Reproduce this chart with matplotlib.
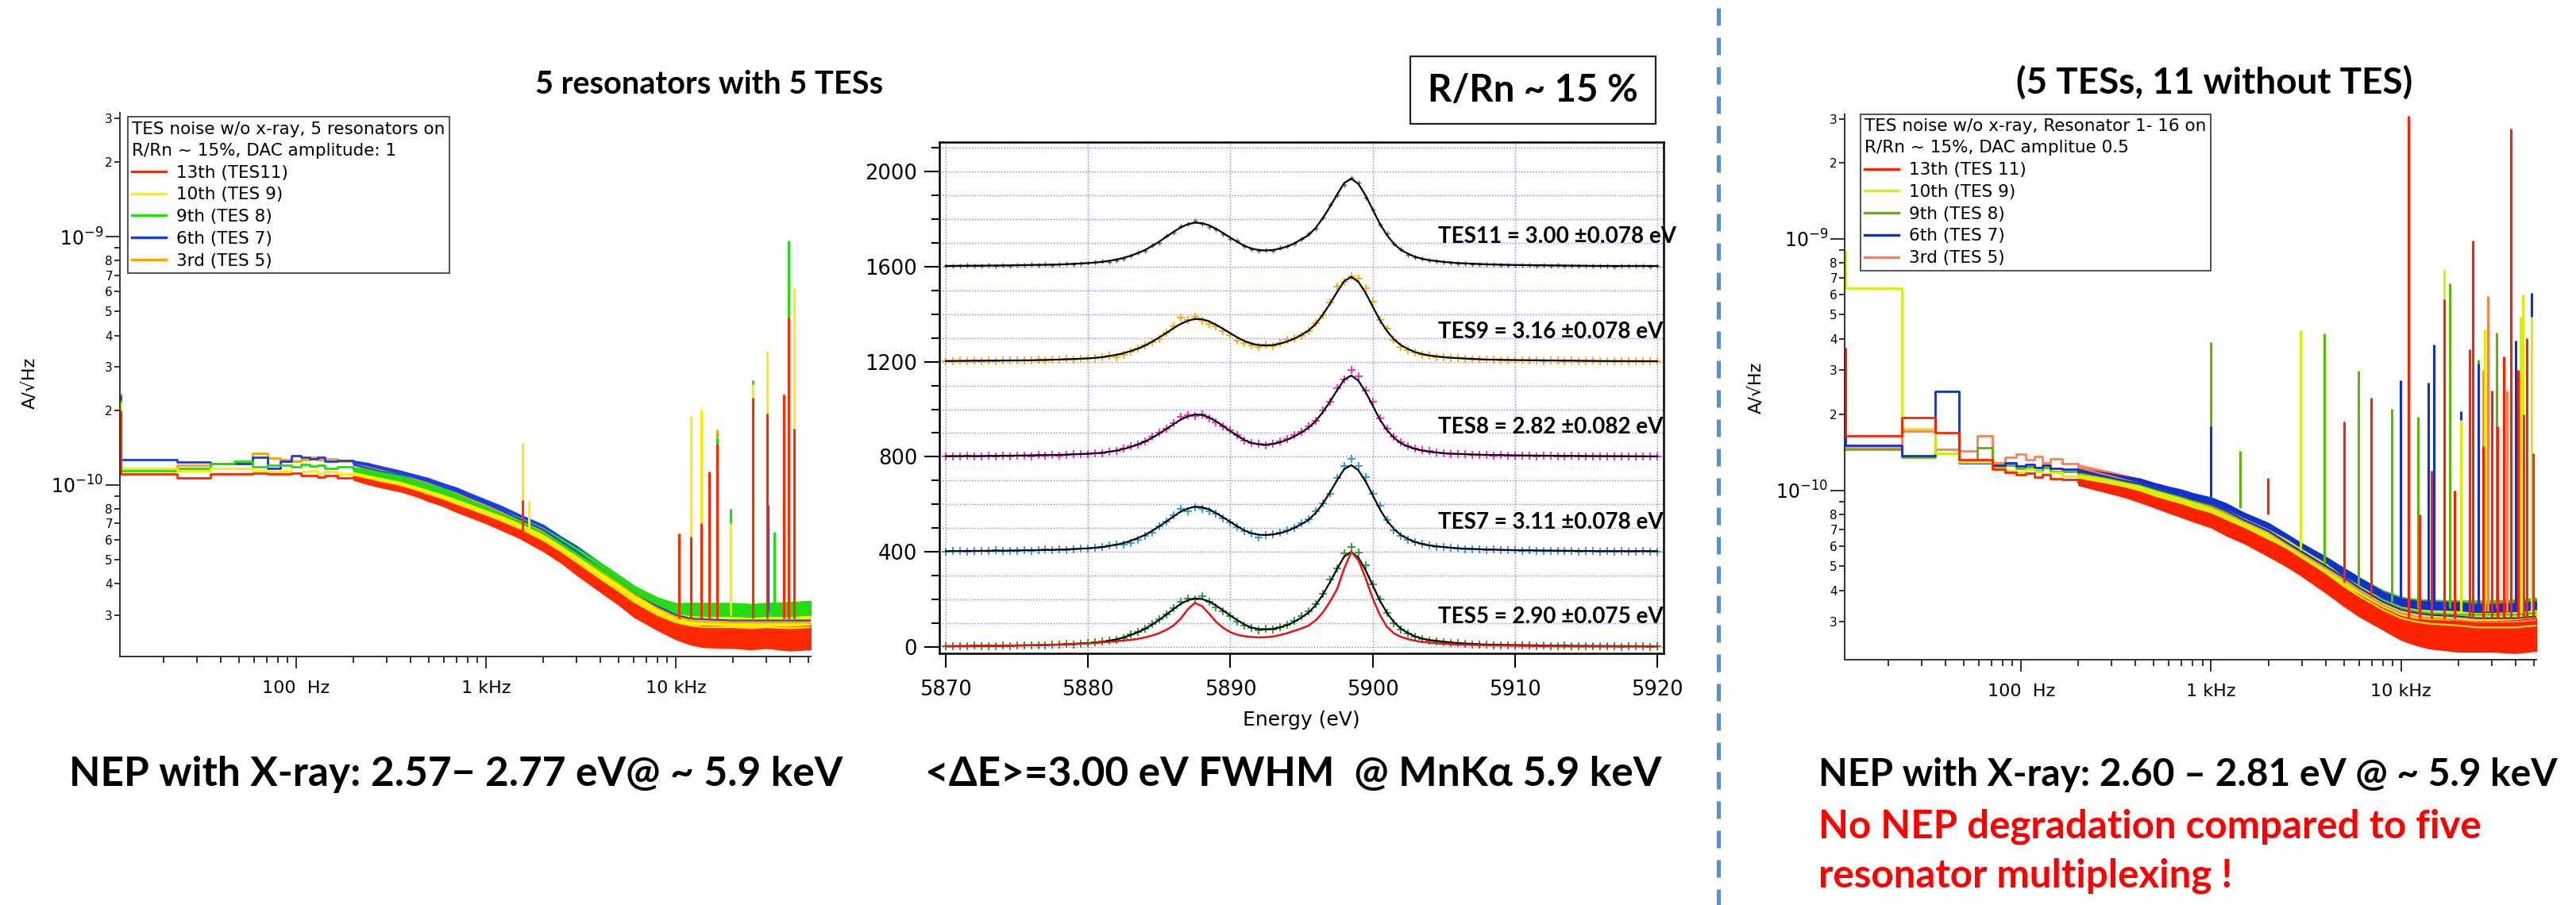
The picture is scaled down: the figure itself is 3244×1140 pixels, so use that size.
import matplotlib
matplotlib.use("Agg")
import math
import matplotlib.pyplot as plt
from matplotlib.lines import Line2D
from matplotlib.patches import Rectangle
from matplotlib.ticker import FixedLocator, FixedFormatter, FuncFormatter, NullFormatter

plt.rcParams['font.family'] = ['DejaVu Sans']
plt.rcParams['mathtext.fontset'] = 'dejavusans'

W, H = 3244, 1140
BOLD = ['Lato', 'DejaVu Sans']

# ---------------- noise spectra (values in 1e-11 A/rtHz) ----------------
UNIT = 1e-11
freq = [11.8, 23.6, 35.4, 47.2, 59.0, 70.8, 82.6, 94.4, 106, 118, 130, 142, 165,
        200, 236, 283, 354, 425, 500, 600, 700, 800, 1000, 1200, 1500, 2000, 2500,
        3000, 4000, 5000, 6000, 8000, 10000, 12000, 14000, 20000, 25000, 30000,
        40000, 51400]
N_STEP = 14  # the first bins are drawn as steps, the rest as a noisy band

# relative half-width of the noisy band
jit_left = [0] * 13 + [0.02, 0.025, 0.025, 0.03, 0.03, 0.035, 0.035, 0.04, 0.04, 0.04,
                       0.045, 0.045, 0.05, 0.05, 0.055, 0.06, 0.06, 0.065, 0.07, 0.08,
                       0.09, 0.10, 0.10, 0.10, 0.10, 0.11, 0.11]
jit_right = [0] * 13 + [0.03, 0.035, 0.04, 0.045, 0.05, 0.05, 0.055, 0.06, 0.06, 0.065,
                        0.07, 0.07, 0.075, 0.08, 0.08, 0.09, 0.09, 0.10, 0.10, 0.11,
                        0.12, 0.13, 0.14, 0.14, 0.14, 0.15, 0.15]

left_red = [11.07, 10.7, 11.07, 11.07, 11.2, 11.07, 11.07, 11.2, 10.9, 10.9, 10.8, 10.9, 10.7,
            10.7, 10.35, 10.0, 9.7, 9.3, 8.9, 8.5, 8.1, 7.8, 7.3, 6.9, 6.4, 5.7, 5.1, 4.6,
            3.95, 3.5, 3.15, 2.8, 2.6, 2.5, 2.47, 2.45, 2.42, 2.45, 2.42, 2.45]
left_yellow = [11.64, 11.45, 11.64, 11.64, 11.45, 11.3, 11.45, 11.2, 11.3, 11.45, 11.2, 11.3, 11.1,
               11.0, 10.7, 10.4, 10.0, 9.6, 9.2, 8.8, 8.4, 8.1, 7.6, 7.2, 6.7, 6.0, 5.4, 4.9,
               4.2, 3.75, 3.4, 3.0, 2.8, 2.72, 2.68, 2.68, 2.65, 2.68, 2.65, 2.68]
left_green = [11.45, 11.64, 12.24, 12.45, 11.84, 12.0, 12.0, 11.84, 12.1, 11.9, 12.0, 11.7, 11.8,
              11.6, 11.3, 11.0, 10.6, 10.2, 9.8, 9.4, 9.0, 8.6, 8.0, 7.6, 7.1, 6.4, 5.8, 5.3,
              4.6, 4.1, 3.7, 3.3, 3.1, 3.08, 3.05, 3.05, 3.02, 3.05, 3.05, 3.08]
left_blue = [12.67, 12.35, 12.24, 12.24, 12.9, 11.64, 12.45, 13.1, 12.9, 12.7, 12.9, 12.5, 12.6,
             12.3, 12.0, 11.6, 11.1, 10.7, 10.3, 9.8, 9.4, 9.0, 8.4, 7.9, 7.3, 6.6, 5.9, 5.4,
             4.6, 4.1, 3.7, 3.25, 3.0, 2.9, 2.88, 2.85, 2.85, 2.85, 2.85, 2.85]
left_orange = [11.7, 12.04, 12.24, 12.24, 13.45, 12.88, 12.67, 12.45, 12.67, 12.9, 12.67, 12.7, 12.5,
               12.3, 11.9, 11.5, 11.1, 10.6, 10.2, 9.8, 9.3, 8.9, 8.3, 7.8, 7.25, 6.5, 5.85, 5.3,
               4.55, 4.05, 3.65, 3.2, 2.95, 2.85, 2.82, 2.8, 2.8, 2.8, 2.8, 2.8]

# spikes: (frequency, base, top)
left_red_spikes = [(11.9, 11.1, 20.0), (1556, 6.5, 8.7), (10400, 2.9, 6.4), (12000, 2.9, 6.2),
                   (13600, 2.9, 7.0), (15000, 2.9, 11.3), (16500, 2.9, 14.7), (25400, 2.9, 22.5),
                   (30200, 2.9, 19.4), (36900, 2.9, 23.2), (39400, 2.9, 47.2), (42000, 2.9, 16.9)]
left_yellow_spikes = [(11.9, 11.7, 21.5), (1556, 6.8, 14.8), (1680, 6.7, 8.6), (12000, 3.0, 19.0),
                      (13600, 3.0, 20.1), (19400, 3.0, 7.0), (25400, 3.0, 25.5), (30200, 3.0, 34.6),
                      (42000, 3.0, 61.9)]
left_green_spikes = [(11.9, 11.5, 22.0), (16500, 3.3, 15.5), (19400, 3.3, 8.0), (25400, 3.3, 26.4),
                     (33000, 3.3, 6.5), (39400, 3.3, 96.7)]
left_blue_spikes = [(11.9, 12.7, 23.0), (30500, 3.1, 8.3)]
left_orange_spikes = [(11.9, 11.7, 23.5), (16500, 3.1, 16.7)]

right_red = [16.5, 19.5, 16.9, 13.2, 13.2, 12.1, 11.8, 11.5, 11.7, 11.3, 11.5, 11.1, 11.0,
             10.8, 10.5, 10.2, 9.8, 9.4, 9.0, 8.6, 8.3, 8.0, 7.6, 7.1, 6.6, 5.9, 5.4, 4.95,
             4.3, 3.8, 3.5, 3.1, 2.85, 2.75, 2.7, 2.65, 2.65, 2.65, 2.65, 2.7]
right_yellow = [63.6, 17.6, 14.06, 12.93, 12.93, 12.2, 12.0, 11.8, 12.1, 11.9, 11.6, 11.8, 11.4,
                11.3, 11.0, 10.8, 10.4, 10.0, 9.7, 9.3, 9.0, 8.7, 8.3, 7.8, 7.2, 6.5, 5.9, 5.4,
                4.7, 4.15, 3.8, 3.35, 3.1, 3.0, 2.95, 2.9, 2.85, 2.85, 2.85, 2.9]
right_green = [14.6, 13.5, 14.06, 12.93, 14.8, 12.4, 12.6, 12.2, 12.4, 12.0, 12.3, 11.9, 11.9,
               11.7, 11.5, 11.2, 10.8, 10.5, 10.1, 9.7, 9.4, 9.1, 8.7, 8.2, 7.6, 6.9, 6.2, 5.7,
               5.0, 4.5, 4.1, 3.65, 3.4, 3.3, 3.25, 3.2, 3.2, 3.2, 3.2, 3.25]
right_blue = [15.1, 13.7, 24.8, 12.9, 12.9, 12.6, 12.9, 12.5, 12.7, 12.3, 12.6, 12.2, 12.1,
              11.9, 11.6, 11.3, 10.9, 10.6, 10.2, 9.8, 9.5, 9.2, 8.8, 8.3, 7.6, 6.9, 6.2, 5.7,
              5.0, 4.5, 4.1, 3.6, 3.35, 3.25, 3.2, 3.15, 3.1, 3.1, 3.1, 3.15]
right_orange = [14.8, 17.2, 14.6, 14.3, 16.5, 12.9, 13.5, 13.9, 13.2, 13.6, 12.9, 13.3, 12.8,
                12.3, 11.9, 11.5, 11.0, 10.6, 10.2, 9.8, 9.4, 9.1, 8.6, 8.1, 7.5, 6.8, 6.1, 5.6,
                4.9, 4.4, 4.0, 3.5, 3.25, 3.15, 3.1, 3.05, 3.0, 3.0, 3.0, 3.05]

right_red_spikes = [(11.9, 16.5, 37.0), (1990, 8.0, 11.2), (5000, 4.3, 18.8), (6980, 3.8, 23.3),
                    (10900, 3.1, 308), (12500, 3.1, 8.0), (14500, 3.1, 12.0), (16900, 3.1, 57.4),
                    (19000, 3.1, 10.0), (22800, 3.1, 36.4), (23900, 3.1, 98.1), (27000, 3.1, 15.0),
                    (30000, 3.1, 25.0), (32000, 3.1, 18.0), (34700, 3.1, 34.0), (37600, 3.1, 274),
                    (41000, 3.1, 30.0), (44000, 3.1, 20.0), (46000, 3.1, 40.3), (49500, 3.1, 14.0)]
right_yellow_spikes = [(11.9, 63.6, 89.5), (2960, 5.8, 43.4), (16900, 3.3, 75.0), (20600, 3.3, 19.0),
                       (27500, 3.3, 43.7), (42400, 3.3, 49.0), (43800, 3.3, 59.9), (48600, 3.3, 49.1)]
right_green_spikes = [(993, 9.4, 38.9), (1420, 8.5, 14.3), (3950, 5.0, 42.0), (5980, 4.2, 29.9),
                      (8900, 3.6, 21.1), (12200, 3.4, 19.6), (16900, 3.4, 72.0), (18000, 3.4, 66.4),
                      (25500, 3.4, 33.0), (31800, 3.4, 42.3)]
right_blue_spikes = [(11.9, 15.1, 37.0), (993, 9.4, 18.0), (9950, 3.5, 27.4), (13900, 3.4, 26.7),
                     (14900, 3.4, 38.0), (20600, 3.4, 20.6), (25500, 3.4, 32.0), (40200, 3.4, 39.5),
                     (42400, 3.4, 40.3), (48600, 3.4, 61.0)]
right_orange_spikes = [(26900, 3.3, 30.0), (28600, 3.3, 59.0), (36000, 3.3, 25.0)]

left_labels = ['13th (TES11)', '10th (TES 9)', '9th (TES 8)', '6th (TES 7)', '3rd (TES 5)']
right_labels = ['13th (TES 11)', '10th (TES 9)', '9th (TES 8)', '6th (TES 7)', '3rd (TES 5)']
left_title = 'TES noise w/o x-ray, 5 resonators on\nR/Rn ~ 15%, DAC amplitude: 1'
right_title = 'TES noise w/o x-ray, Resonator 1- 16 on\nR/Rn ~ 15%, DAC amplitue 0.5'
left_colors = ['#ff2a00', '#ffee00', '#22dd11', '#1a3cf0', '#ffa200']
right_colors = ['#ff2200', '#d8f000', '#5cb800', '#1030d0', '#ff8050']

# ---------------- MnKa spectra ----------------
E_fit = [5870, 5872, 5874, 5876, 5878, 5880, 5881, 5882, 5882.5, 5883, 5883.5, 5884, 5884.5,
         5885, 5885.5, 5886, 5886.5, 5887, 5887.5, 5888, 5888.5, 5889, 5889.5, 5890, 5890.5,
         5891, 5891.5, 5892, 5892.5, 5893, 5893.5, 5894, 5894.5, 5895, 5895.5, 5896, 5896.5,
         5897, 5897.5, 5898, 5898.5, 5899, 5899.5, 5900, 5900.5, 5901, 5901.5, 5902, 5902.5,
         5903, 5903.5, 5904, 5905, 5906, 5908, 5910, 5913, 5916, 5920]
fit_tes11 = [3, 4, 5, 7, 9, 15, 20, 30, 37, 46, 57, 70, 87, 105, 126, 146, 165, 178, 185, 183,
             174, 159, 141, 122, 104, 87, 76, 70, 68, 70, 76, 85, 98, 115, 133, 163, 204, 252,
             303, 352, 370, 348, 300, 241, 181, 133, 96, 70, 54, 41, 33, 27, 20, 15, 10, 7, 5, 3, 3]
fit_tes9 = [3, 4, 5, 6, 9, 14, 19, 29, 36, 45, 55, 68, 84, 102, 121, 141, 159, 172, 180, 179,
            170, 155, 138, 120, 102, 87, 76, 70, 68, 70, 76, 85, 97, 113, 131, 159, 198, 244,
            293, 339, 357, 336, 290, 233, 176, 130, 94, 69, 53, 40, 32, 26, 19, 15, 9, 7, 5, 3, 2]
fit_tes8 = [3, 3, 4, 6, 8, 13, 17, 26, 33, 41, 52, 64, 80, 98, 117, 137, 156, 170, 178, 176,
            166, 149, 129, 108, 88, 70, 58, 52, 51, 54, 61, 72, 86, 103, 123, 150, 188, 232,
            280, 325, 342, 320, 273, 216, 158, 113, 80, 57, 43, 33, 26, 21, 15, 12, 8, 6, 4, 3, 2]
fit_tes7 = [3, 4, 5, 7, 9, 15, 20, 30, 37, 47, 58, 71, 88, 107, 128, 149, 169, 182, 190, 188,
            179, 163, 145, 126, 107, 90, 78, 72, 71, 73, 79, 88, 101, 117, 135, 164, 203, 250,
            301, 348, 365, 343, 297, 239, 180, 132, 96, 70, 54, 41, 33, 27, 20, 15, 10, 7, 5, 3, 3]
fit_tes5 = [3, 4, 5, 7, 10, 16, 21, 32, 40, 50, 62, 76, 94, 114, 136, 159, 181, 196, 204, 202,
            191, 174, 153, 132, 112, 94, 81, 75, 73, 76, 82, 92, 106, 124, 145, 176, 220, 272,
            328, 380, 400, 376, 324, 260, 196, 144, 104, 76, 58, 44, 35, 29, 22, 16, 10, 8, 5, 4, 3]
natural_line = [3, 4, 5, 7, 10, 15, 19, 24, 27, 30, 34, 40, 48, 58, 72, 90, 118, 158, 185, 172,
                140, 105, 80, 62, 51, 45, 42, 40, 41, 44, 50, 58, 68, 78, 90, 112, 145, 190,
                243, 330, 400, 365, 290, 205, 135, 85, 57, 42, 33, 26, 21, 18, 13, 10, 7, 5, 3, 2, 2]

E_bin = [5870, 5870.5, 5871, 5871.5, 5872, 5872.5, 5873, 5873.5, 5874, 5874.5,
         5875, 5875.5, 5876, 5876.5, 5877, 5877.5, 5878, 5878.5, 5879, 5879.5,
         5880, 5880.5, 5881, 5881.5, 5882, 5882.5, 5883, 5883.5, 5884, 5884.5,
         5885, 5885.5, 5886, 5886.5, 5887, 5887.5, 5888, 5888.5, 5889, 5889.5,
         5890, 5890.5, 5891, 5891.5, 5892, 5892.5, 5893, 5893.5, 5894, 5894.5,
         5895, 5895.5, 5896, 5896.5, 5897, 5897.5, 5898, 5898.5, 5899, 5899.5,
         5900, 5900.5, 5901, 5901.5, 5902, 5902.5, 5903, 5903.5, 5904, 5904.5,
         5905, 5905.5, 5906, 5906.5, 5907, 5907.5, 5908, 5908.5, 5909, 5909.5,
         5910, 5910.5, 5911, 5911.5, 5912, 5912.5, 5913, 5913.5, 5914, 5914.5,
         5915, 5915.5, 5916, 5916.5, 5917, 5917.5, 5918, 5918.5, 5919, 5919.5, 5920]
cnt_tes11 = [2, 4, 3, 5, 2, 4, 6, 3, 5, 4, 6, 5, 8, 6, 9, 7, 10, 12, 9, 14,
             15, 18, 22, 19, 28, 34, 48, 60, 67, 90, 100, 130, 142, 170, 180, 192, 180, 168, 155, 138,
             118, 110, 85, 72, 66, 70, 68, 80, 88, 95, 118, 140, 160, 208, 260, 300, 345, 375, 352, 290,
             240, 178, 140, 98, 72, 50, 40, 32, 26, 24, 18, 16, 14, 12, 11, 9, 10, 8, 6, 7,
             7, 5, 6, 4, 5, 3, 5, 4, 3, 2, 4, 2, 3, 3, 1, 3, 2, 2, 3, 1, 2]
cnt_tes9 = [3, 2, 4, 3, 5, 2, 4, 3, 6, 4, 5, 7, 4, 8, 6, 9, 8, 11, 10, 13,
            14, 17, 20, 24, 18, 30, 42, 55, 70, 82, 96, 124, 150, 185, 175, 190, 172, 160, 148, 130,
            112, 90, 80, 68, 62, 72, 66, 78, 92, 98, 108, 128, 162, 196, 250, 315, 335, 360, 350, 310,
            252, 175, 140, 92, 62, 48, 38, 30, 24, 20, 18, 14, 15, 11, 10, 9, 8, 9, 7, 6,
            6, 7, 4, 5, 3, 5, 4, 3, 4, 2, 3, 4, 2, 3, 2, 3, 1, 2, 3, 2, 2]
cnt_tes8 = [2, 3, 1, 4, 2, 3, 5, 2, 4, 3, 4, 6, 3, 7, 5, 8, 6, 9, 10, 12,
            11, 16, 14, 22, 26, 34, 44, 52, 66, 85, 100, 118, 140, 168, 176, 172, 180, 162, 146, 128,
            110, 90, 68, 58, 55, 48, 56, 64, 74, 90, 104, 128, 150, 196, 232, 290, 325, 365, 338, 280,
            232, 160, 118, 86, 60, 45, 36, 28, 24, 18, 16, 12, 13, 10, 9, 7, 8, 6, 7, 5,
            6, 4, 5, 3, 4, 5, 3, 2, 4, 3, 2, 3, 1, 3, 2, 1, 3, 2, 1, 2, 2]
cnt_tes7 = [2, 4, 3, 2, 5, 3, 4, 6, 3, 5, 4, 7, 5, 6, 9, 7, 10, 8, 12, 14,
            13, 18, 20, 26, 30, 32, 38, 52, 68, 82, 108, 128, 155, 182, 170, 188, 180, 172, 160, 140,
            124, 105, 88, 78, 62, 72, 74, 80, 90, 102, 120, 138, 170, 205, 246, 312, 360, 390, 362, 315,
            245, 195, 135, 92, 68, 52, 40, 34, 26, 22, 19, 16, 14, 12, 10, 11, 8, 9, 7, 6,
            7, 5, 6, 4, 5, 3, 4, 5, 3, 2, 3, 4, 2, 3, 2, 3, 2, 1, 3, 2, 2]
cnt_tes5 = [2, 3, 4, 2, 5, 3, 4, 3, 6, 4, 5, 7, 6, 8, 7, 10, 9, 12, 11, 14,
            16, 19, 24, 28, 30, 38, 52, 62, 78, 98, 115, 138, 165, 190, 205, 200, 212, 190, 168, 150,
            130, 108, 90, 80, 70, 76, 72, 82, 94, 110, 130, 150, 180, 225, 285, 330, 395, 420, 398, 345,
            262, 200, 145, 100, 72, 56, 44, 34, 28, 24, 20, 18, 15, 13, 11, 10, 9, 8, 7, 8,
            6, 5, 7, 4, 5, 4, 3, 5, 3, 2, 4, 2, 3, 2, 3, 1, 2, 3, 2, 1, 2]

tes_offsets = [1600, 1200, 800, 400, 0]
tes_colors = ['#5a5a5a', '#ffaa00', '#ff22cc', '#2a96dc', '#22a022']
tes_text = ['TES11 = 3.00 \u00b10.078 eV', 'TES9 = 3.16 \u00b10.078 eV', 'TES8 = 2.82 \u00b10.082 eV',
            'TES7 = 3.11 \u00b10.078 eV', 'TES5 = 2.90 \u00b10.075 eV']


def box(x0, y0, x1, y1):
    return [x0 / W, 1 - y1 / H, (x1 - x0) / W, (y1 - y0) / H]


def fx(x):
    return x / W


def fy(y):
    return 1 - y / H


def minor_label(v, pos):
    e = math.floor(math.log10(v) + 1e-9)
    m = int(round(v / 10 ** e))
    return '' if m in (1, 9) else str(m)


def style_noise(ax, ylim):
    ax.set_xscale('log')
    ax.set_yscale('log')
    ax.set_xlim(11.8, 51400)
    ax.set_ylim(ylim)
    for s in ('top', 'right'):
        ax.spines[s].set_visible(False)
    for s in ('left', 'bottom'):
        ax.spines[s].set_color('#333333')
        ax.spines[s].set_linewidth(1.4)
    ax.xaxis.set_major_locator(FixedLocator([100, 1000, 10000]))
    ax.xaxis.set_major_formatter(FixedFormatter(['100  Hz', '1 kHz', '10 kHz']))
    xminor = [m * d for d in (10, 100, 1000, 10000) for m in range(2, 10) if m * d < 51400]
    ax.xaxis.set_minor_locator(FixedLocator(xminor))
    ax.xaxis.set_minor_formatter(NullFormatter())
    ax.yaxis.set_major_locator(FixedLocator([1e-10, 1e-9]))
    ax.yaxis.set_major_formatter(FixedFormatter([r'$10^{-10}$', r'$10^{-9}$']))
    yminor = [m * d for d in (1e-11, 1e-10, 1e-9) for m in range(2, 10)
              if ylim[0] < m * d < ylim[1]]
    ax.yaxis.set_minor_locator(FixedLocator(yminor))
    ax.yaxis.set_minor_formatter(FuncFormatter(minor_label))
    ax.tick_params(axis='both', which='both', direction='out', color='#333333', width=1.4)
    ax.tick_params(axis='x', which='major', length=10.8, pad=11, labelsize=16)
    ax.tick_params(axis='x', which='minor', length=5.5)
    ax.tick_params(axis='y', which='major', length=13, pad=2, labelsize=17)
    ax.tick_params(axis='y', which='minor', length=5, pad=1.5, labelsize=11)


def draw_noise(ax, series, jit, colors, spikes, order):
    for i in order:
        mid = [m * UNIT for m in series[i]]
        lo = [m * (1 - j) for m, j in zip(mid, jit)]
        hi = [m * (1 + j) for m, j in zip(mid, jit)]
        k = N_STEP - 1
        ax.plot(freq[:N_STEP], mid[:N_STEP], drawstyle='steps-post', color=colors[i], lw=2)
        ax.fill_between(freq[k:], lo[k:], hi[k:], color=colors[i], lw=0.8, edgecolor=colors[i])
        ax.plot(freq[k:], mid[k:], color=colors[i], lw=1.5)
        sf = [s[0] for s in spikes[i]]
        sb = [s[1] * UNIT for s in spikes[i]]
        st = [s[2] * UNIT for s in spikes[i]]
        ax.vlines(sf, sb, st, color=colors[i], lw=2.2)


def noise_legend(ax, labels, colors, title, anchor):
    handles = [Line2D([], [], color=c, lw=2.4) for c in colors]
    leg = ax.legend(handles, labels, title=title, loc='upper left', bbox_to_anchor=anchor,
                    fontsize=15.5, title_fontsize=15.5, alignment='left', frameon=True,
                    fancybox=False, edgecolor='#444444', framealpha=1, handlelength=2.0,
                    handletextpad=0.6, labelspacing=0.36, borderpad=0.25, borderaxespad=0)
    leg.get_frame().set_linewidth(1.3)
    leg.get_title().set_linespacing(1.45)


fig = plt.figure(figsize=(W / 100, H / 100), dpi=100)

# ---- left noise plot ----
axl = fig.add_axes(box(151, 141.7, 1021, 827))
style_noise(axl, (2.04e-11, 3.16e-9))
draw_noise(axl, [left_red, left_yellow, left_green, left_blue, left_orange], jit_left, left_colors,
           [left_red_spikes, left_yellow_spikes, left_green_spikes, left_blue_spikes, left_orange_spikes],
           order=[4, 3, 2, 1, 0])
noise_legend(axl, left_labels, left_colors, left_title, (0.0115, 0.992))
fig.text(fx(37), fy(482), 'A/\u221aHz', rotation=90, ha='center', va='center', fontsize=16)

# ---- right noise plot ----
axr = fig.add_axes(box(2323, 143.8, 3194, 831))
style_noise(axr, (2.12e-11, 3.13e-9))
draw_noise(axr, [right_red, right_yellow, right_green, right_blue, right_orange], jit_right, right_colors,
           [right_red_spikes, right_yellow_spikes, right_green_spikes, right_blue_spikes, right_orange_spikes],
           order=[4, 2, 3, 1, 0])
noise_legend(axr, right_labels, right_colors, right_title, (0.023, 1.0))
fig.text(fx(2211), fy(488), 'A/\u221aHz', rotation=90, ha='center', va='center', fontsize=16)

# ---- middle spectra ----
axm = fig.add_axes(box(1183, 179, 2095, 823))
axm.set_xlim(5869.55, 5920.45)
axm.set_ylim(-27, 2124)
axm.xaxis.set_major_locator(FixedLocator([5870, 5880, 5890, 5900, 5910, 5920]))
axm.yaxis.set_major_locator(FixedLocator([0, 400, 800, 1200, 1600, 2000]))
axm.yaxis.set_minor_locator(FixedLocator([v for v in range(100, 2200, 100) if v % 400]))
axm.grid(which='both', axis='y', color='#7c7cff', ls=':', lw=1)
axm.grid(which='major', axis='x', color='#7c7cff', ls=':', lw=1)
axm.set_axisbelow(True)
for s in axm.spines.values():
    s.set_linewidth(1.8)
axm.tick_params(axis='both', which='both', direction='out', width=1.5)
axm.tick_params(axis='y', which='major', length=14, pad=6, labelsize=18.5)
axm.tick_params(axis='y', which='minor', length=7)
axm.tick_params(axis='x', which='major', length=13, pad=11, labelsize=18.5)

fits = [fit_tes11, fit_tes9, fit_tes8, fit_tes7, fit_tes5]
counts = [cnt_tes11, cnt_tes9, cnt_tes8, cnt_tes7, cnt_tes5]
for k, (off, col) in enumerate(zip(tes_offsets, tes_colors)):
    small = k == 0
    axm.plot(E_bin, [c + off for c in counts[k]], ls='none', marker='+',
             ms=4.5 if small else 7.5, mew=1.0 if small else 1.3, color=col)
    axm.plot(E_fit, [v + off for v in fits[k]], color='black', lw=1.6)
    axm.text(5904.6, off + 125, tes_text[k], ha='left', va='center', fontsize=20,
             fontweight='bold', family=BOLD, clip_on=False)
axm.plot(E_fit, natural_line, color='#ee1111', lw=1.8)
fig.text(fx(1639), fy(907), 'Energy (eV)', ha='center', va='center', fontsize=18)

# R/Rn box
fig.add_artist(Rectangle((fx(1776), fy(156)), (2085 - 1776) / W, (156 - 71) / H,
                         transform=fig.transFigure, fill=False, ec='#222222', lw=1.6))
fig.text(fx(1930), fy(114), 'R/Rn ~ 15 %', ha='center', va='center', fontsize=34,
         fontweight='bold', family=BOLD)

# divider
fig.add_artist(Line2D([fx(2164), fx(2164)], [1, 0], transform=fig.transFigure,
                      color='#5b8fd0', lw=3.6, linestyle=(5.4, (4.4, 3.0))))

# titles and notes
bkw = dict(fontweight='bold', family=BOLD, va='baseline')
fig.text(fx(674), fy(118), '5 resonators with 5 TESs', ha='left', fontsize=28.5, **bkw)
fig.text(fx(2789), fy(118), '(5 TESs, 11 without TES)', ha='center', fontsize=33, **bkw)
fig.text(fx(87), fy(990), 'NEP with X-ray: 2.57\u2212 2.77 eV@ ~ 5.9 keV', ha='left', fontsize=37, **bkw)
fig.text(fx(1165), fy(990), '<\u0394E>=3.00 eV FWHM  @ MnK\u03b1 5.9 keV', ha='left', fontsize=37, **bkw)
fig.text(fx(2290), fy(990), 'NEP with X-ray: 2.60 \u2013 2.81 eV @ ~ 5.9 keV', ha='left', fontsize=34.5, **bkw)
fig.text(fx(2290), fy(1055), 'No NEP degradation compared to five', ha='left', color='#ff0000',
         fontsize=35.5, **bkw)
fig.text(fx(2290), fy(1118), 'resonator multiplexing !', ha='left', color='#ff0000', fontsize=35.5, **bkw)

fig.savefig('out.png', dpi=100)
